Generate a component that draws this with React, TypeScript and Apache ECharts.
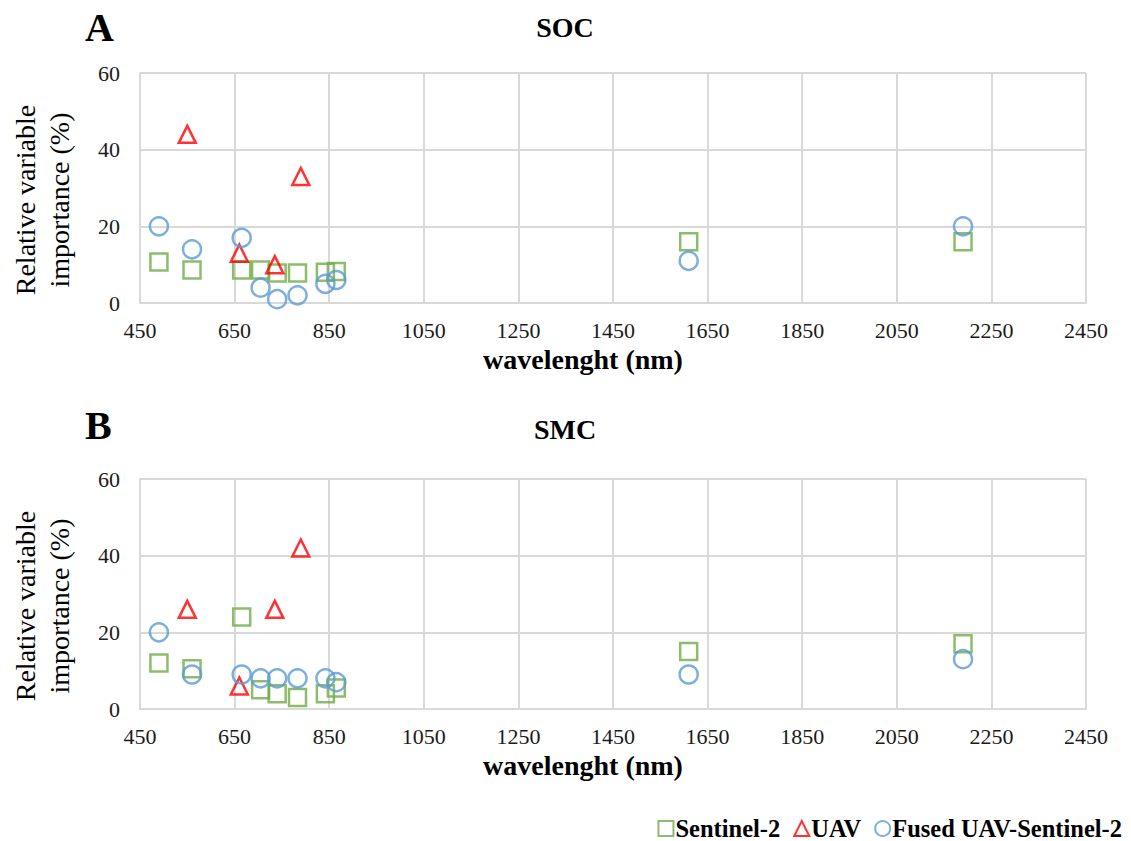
import React, { useEffect, useRef } from "react";
import * as echarts from "echarts";

const s2Wavelengths = [490, 560, 665, 705, 740, 783, 842, 865, 1610, 2190];
const fusedWavelengths = [490, 560, 665, 705, 740, 783, 842, 865, 1610, 2190];
const uavWavelengths = [550, 660, 735, 790];

const s2SOC = [10.7, 8.6, 8.6, 8.6, 7.8, 7.8, 8, 8.2, 16, 16];
const uavSOC = [44, 13, 10, 33];
const fusedSOC = [20, 14, 17, 4, 1, 2, 5, 6, 11, 20];

const s2SMC = [12, 10.5, 24, 5, 4, 3, 4, 5.5, 15, 17];
const uavSMC = [26, 6, 26, 42];
const fusedSMC = [20, 9, 9, 8, 8, 8, 8, 7, 9, 13];

const panelLabels = ["A", "B"];
const panelTitles = ["SOC", "SMC"];
const seriesNames = ["Sentinel-2", "UAV", "Fused UAV-Sentinel-2"];
const xAxisName = "wavelenght (nm)";
const yAxisName = "Relative variable\nimportance (%)";

const GREEN = "#70AD47";
const RED = "#FF0000";
const BLUE = "#5B9BD5";
const GRIDC = "#d9d9d9";
const FONT = "'Liberation Serif', 'DejaVu Serif', serif";

const zip = (xs: number[], ys: number[]) => xs.map((x, i) => [x, ys[i]]);

export default function App() {
  const ref = useRef<HTMLDivElement>(null);
  useEffect(() => {
    if (!ref.current) return;
    const chart = echarts.init(ref.current, undefined, { renderer: "svg" });
    const grids = [
      { left: 136, top: 73, width: 950, height: 230 },
      { left: 136, top: 479, width: 950, height: 230 },
    ];
    const xAxes = grids.map((_, i) => ({
      type: "value",
      gridIndex: i,
      min: 450,
      max: 2450,
      interval: 200,
      name: xAxisName,
      nameLocation: "middle",
      nameGap: 42,
      nameTextStyle: {
        fontFamily: FONT,
        fontSize: 28,
        fontWeight: "bold",
        color: "#000",
        padding: [0, 60, 0, 0],
      },
      axisLine: { show: true, lineStyle: { color: GRIDC, width: 2 } },
      axisTick: { show: false },
      axisLabel: {
        fontFamily: FONT,
        fontSize: 22,
        color: "#1a1a1a",
        margin: 16,
        formatter: (v: number) => String(v),
      },
      splitLine: { show: true, lineStyle: { color: GRIDC, width: 2 } },
    }));
    const yAxes = grids.map((_, i) => ({
      type: "value",
      gridIndex: i,
      min: 0,
      max: 60,
      interval: 20,
      name: yAxisName,
      nameLocation: "middle",
      nameRotate: 90,
      nameGap: 64,
      nameTextStyle: {
        fontFamily: FONT,
        fontSize: 28,
        color: "#000",
        lineHeight: 34,
        padding: [0, 24, 0, 0],
      },
      axisLine: { show: true, lineStyle: { color: GRIDC, width: 2 } },
      axisTick: { show: false },
      axisLabel: { fontFamily: FONT, fontSize: 22, color: "#1a1a1a", margin: 20 },
      splitLine: { show: true, lineStyle: { color: GRIDC, width: 2 } },
    }));
    const mk = (name: string, idx: number, data: number[][], symbol: string, color: string, size: number) => ({
      type: "scatter",
      name,
      xAxisIndex: idx,
      yAxisIndex: idx,
      data,
      symbol,
      symbolSize: size,
      itemStyle: { color: "transparent", borderColor: color, borderWidth: 2.5 },
      emphasis: { disabled: true },
    });
    const series = [
      mk(seriesNames[0], 0, zip(s2Wavelengths, s2SOC), "rect", GREEN, 17),
      mk(seriesNames[1], 0, zip(uavWavelengths, uavSOC), "triangle", RED, 17),
      mk(seriesNames[2], 0, zip(fusedWavelengths, fusedSOC), "circle", BLUE, 18),
      mk(seriesNames[0], 1, zip(s2Wavelengths, s2SMC), "rect", GREEN, 17),
      mk(seriesNames[1], 1, zip(uavWavelengths, uavSMC), "triangle", RED, 17),
      mk(seriesNames[2], 1, zip(fusedWavelengths, fusedSMC), "circle", BLUE, 18),
    ];
    const labelTops = [2, 400];
    const titleTops = [8, 410];
    const titles: any[] = [];
    [0, 1].forEach((i) => {
      titles.push({
        text: panelLabels[i],
        left: 80,
        top: labelTops[i],
        textStyle: { fontFamily: FONT, fontSize: 40, fontWeight: "bold", color: "#000" },
      });
      titles.push({
        text: panelTitles[i],
        left: 560,
        top: titleTops[i],
        textAlign: "center",
        textStyle: { fontFamily: FONT, fontSize: 28, fontWeight: "bold", color: "#000" },
      });
    });
    chart.setOption({
      animation: false,
      backgroundColor: "#fff",
      title: titles,
      grid: grids,
      xAxis: xAxes,
      yAxis: yAxes,
      legend: {
        data: seriesNames,
        right: 4,
        top: 811,
        itemWidth: 15,
        itemHeight: 15,
        itemGap: 13,
        textStyle: { fontFamily: FONT, fontSize: 24.5, fontWeight: "bold", color: "#000", padding: [0, 0, 0, -3] },
      },
      series,
    });
    return () => chart.dispose();
  }, []);
  return (
    <div
      ref={ref}
      style={{ position: "fixed", left: 0, top: 0, width: 1131, height: 841, background: "#fff" }}
    />
  );
}
